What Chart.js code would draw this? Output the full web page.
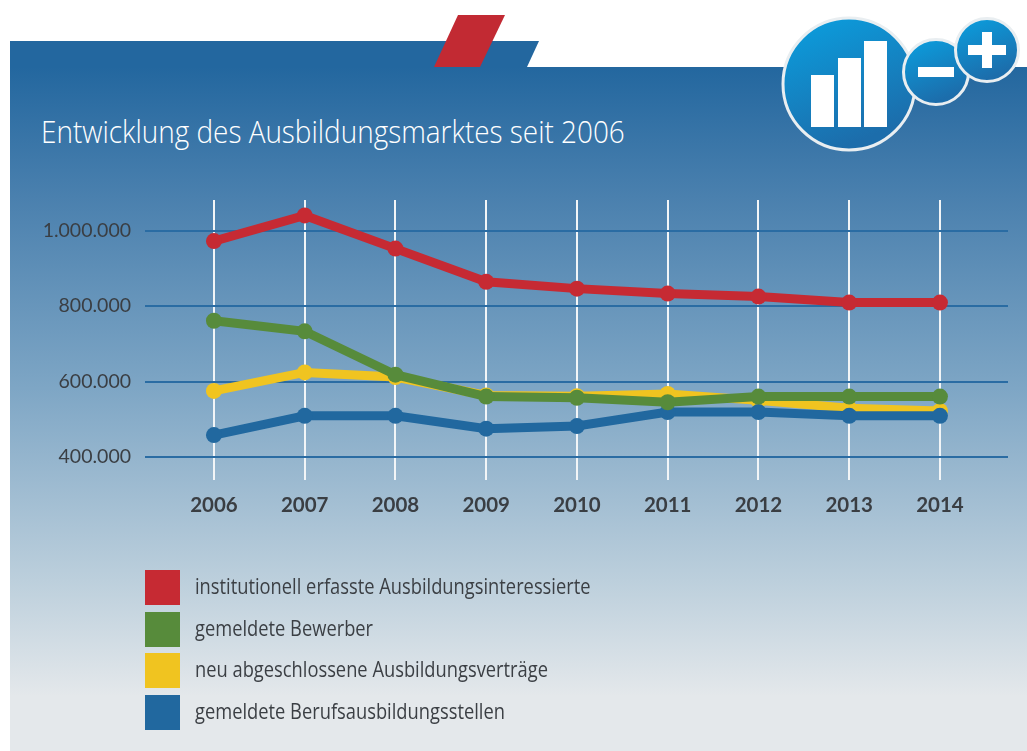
<!DOCTYPE html>
<html lang="de"><head><meta charset="utf-8">
<script src="https://cdn.jsdelivr.net/npm/chart.js@4"></script>
<style>
html,body{margin:0;padding:0;background:#fff;width:1027px;height:751px;overflow:hidden}
#panel{position:absolute;left:10px;top:67px;width:1017px;height:684px;background:linear-gradient(#23679f 0,#4a80ae 19%,#7ea6c5 47%,#bccfdc 75%,#e4e8eb 92%,#e4e8eb 100%)}
#tab{position:absolute;left:10px;top:41px;width:529px;height:26px;background:#23679f;clip-path:polygon(0 0,100% 0,517px 100%,0 100%)}
#red{position:absolute;left:434px;top:15px;width:71px;height:52px;background:#c22a33;clip-path:polygon(24px 0,100% 0,46px 100%,0 100%)}
#title{position:absolute;left:41px;top:109px;font:300 32px "Open Sans",sans-serif;color:#fff;white-space:nowrap;transform-origin:0 0;transform:scaleX(.872)}
#icon{position:absolute;left:770px;top:5px}
canvas{position:absolute;left:0;top:0}
#wrap{position:absolute;left:0;top:0;width:1027px;height:751px}
.sw{position:absolute;left:145px;width:35px;height:35px}
.lt{position:absolute;left:195px;font:400 22px "Open Sans",sans-serif;color:#3b3f44;white-space:nowrap;transform-origin:0 0;transform:scaleX(.832)}
</style></head><body>
<div id="tab"></div><div id="panel"></div><div id="red"></div>
<div id="title">Entwicklung des Ausbildungsmarktes seit 2006</div>
<div id="wrap"><canvas id="c" width="1027" height="751"></canvas></div>
<svg id="icon" width="257" height="150" viewBox="770 5 257 150">
<defs><linearGradient id="g" x1="0" y1="0" x2="0.4" y2="1"><stop offset="0" stop-color="#0aa0e0"/><stop offset="1" stop-color="#1c6dab"/></linearGradient></defs>
<circle cx="849" cy="84" r="66" fill="url(#g)" stroke="#e9eef1" stroke-width="3"/>
<rect x="811" y="75" width="23" height="52" fill="#fff"/><rect x="838" y="58" width="23" height="69" fill="#fff"/><rect x="864" y="41" width="23" height="86" fill="#fff"/>
<circle cx="936" cy="72" r="32.5" fill="url(#g)" stroke="#e9eef1" stroke-width="3"/>
<rect x="918" y="67" width="36" height="10" fill="#fff"/>
<circle cx="987" cy="50" r="31.5" fill="url(#g)" stroke="#e9eef1" stroke-width="3"/>
<rect x="968" y="45" width="38" height="10" fill="#fff"/><rect x="982" y="32" width="10" height="36" fill="#fff"/>
</svg>
<div id="legend"></div>
<script>
const years=[2006,2007,2008,2009,2010,2011,2012,2013,2014];
const interessierte=[972000,1040000,952000,864000,846000,833000,825000,809000,809000];
const bewerber=[761000,733000,618000,560000,557000,545000,560000,560000,560000];
const vertraege=[575000,624000,612000,563000,561000,567000,550000,529000,522000];
const stellen=[458000,509000,509000,475000,482000,519000,519000,509000,509000];
const yTicks=[400000,600000,800000,1000000];
const names=["institutionell erfasste Ausbildungsinteressierte","gemeldete Bewerber","neu abgeschlossene Ausbildungsverträge","gemeldete Berufsausbildungsstellen"];
const colors=["#c62a33","#578b3b","#f0c420","#21689f"];
const series=[interessierte,bewerber,vertraege,stellen];
const drawOrder=[0,1,3,2];
const swatchTops=[570,612,653,695];
const leg=document.getElementById('legend');
names.forEach((n,i)=>{
  const s=document.createElement('div');s.className='sw';s.style.top=swatchTops[i]+'px';s.style.background=colors[i];leg.appendChild(s);
  const t=document.createElement('div');t.className='lt';t.style.top=swatchTops[i]+'px';t.textContent=n;leg.appendChild(t);
});
new Chart(document.getElementById('c'),{
  type:'line',
  data:{datasets:series.map((v,i)=>({label:names[i],data:v.map((y,k)=>({x:years[k],y})),borderColor:colors[i],backgroundColor:colors[i],borderWidth:9,pointRadius:8,pointHoverRadius:8,pointBorderWidth:0,tension:0,order:drawOrder[i]}))},
  options:{responsive:false,animation:false,
    layout:{padding:{left:0,right:19,top:200,bottom:0}},
    plugins:{legend:{display:false},tooltip:{enabled:false}},
    scales:{
      x:{type:'linear',min:2005.24,max:2014.75,
        afterBuildTicks:a=>{a.ticks=years.map(value=>({value}))},
        afterFit:a=>{a.height=751-480},
        border:{display:false},
        grid:{color:'#f2f5f7',lineWidth:2,drawTicks:false},
        ticks:{callback:v=>String(v),autoSkip:false,maxRotation:0,padding:13,color:'#3a3e43',font:{family:'Lato',size:20.5,weight:'bold'}}},
      y:{type:'linear',min:339073,max:1080795,
        afterBuildTicks:a=>{a.ticks=yTicks.map(value=>({value}))},
        afterFit:a=>{a.width=145},
        border:{display:false},
        grid:{color:'#2a6ca3',lineWidth:2,drawTicks:false},
        ticks:{callback:v=>v.toLocaleString('de-DE'),padding:14,color:'#3a3e43',font:{family:'Lato',size:19.5}}}
    }}
});
</script></body></html>
